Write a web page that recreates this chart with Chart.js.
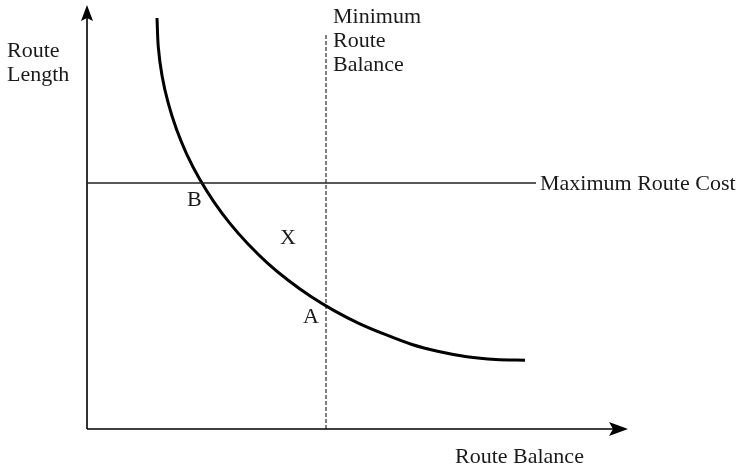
<!DOCTYPE html>
<html>
<head>
<meta charset="utf-8">
<script src="https://cdn.jsdelivr.net/npm/chart.js@4/dist/chart.umd.min.js"></script>
<style>
  html, body { margin: 0; padding: 0; background: #fff; }
  #wrap { width: 736px; height: 470px; }
</style>
</head>
<body>
<div id="wrap"><canvas id="grafico" width="736" height="470"></canvas></div>
<script>
// ===== Data (arbitrary units) =====
const curveX = [70, 71.3, 75, 81.1, 89.4, 99.8, 112.3, 126.7, 142.9, 160.8, 180.2,
  201.2, 223.5, 247.1, 271.8, 297.5, 324.2, 351.7, 379.9, 408.7, 438];
const curveY = [411, 381.9, 353.6, 326.3, 299.9, 274.6, 250.4, 227.4, 205.6, 185.2, 166.2,
  148.7, 132.7, 118.4, 105.7, 94.8, 84.8, 77.5, 72.3, 69.6, 68.8];

const maxCostX = [0, 449];
const maxCostY = [246, 246];

const minBalanceX = [239, 239];
const minBalanceY = [0, 396];

const xRange = [0, 541];
const yRange = [0, 424];

// ===== Text labels =====
const FONTE = '22px "Liberation Serif", "Times New Roman", serif';
const COR_TEXTO = '#1a1a1a';

const rotulos = [
  { text: 'Route', x: 7, y: 57 },
  { text: 'Length', x: 7, y: 81 },
  { text: 'Minimum', x: 333, y: 23 },
  { text: 'Route', x: 333, y: 47 },
  { text: 'Balance', x: 333, y: 71 },
  { text: 'Maximum Route Cost', x: 540, y: 190 },
  { text: 'B', x: 187, y: 206 },
  { text: 'X', x: 280, y: 244 },
  { text: 'A', x: 303, y: 323 },
  { text: 'Route Balance', x: 455, y: 463 },
];

const pares = (xs, ys) => xs.map((x, i) => ({ x, y: ys[i] }));

// ===== Plugin: axes with arrowheads + labels =====
const eixosPlugin = {
  id: 'eixos',
  beforeDatasetsDraw(chart) {
    const { ctx, scales: { x, y } } = chart;
    const x0 = x.getPixelForValue(0);
    const y0 = y.getPixelForValue(0);
    const topo = y.getPixelForValue(yRange[1]);
    const direita = x.getPixelForValue(xRange[1]);

    ctx.save();
    ctx.strokeStyle = '#000';
    ctx.fillStyle = '#000';
    ctx.lineWidth = 1.6;

    ctx.beginPath();
    ctx.moveTo(x0, y0);
    ctx.lineTo(x0, topo + 12);
    ctx.moveTo(x0, y0);
    ctx.lineTo(direita - 14, y0);
    ctx.stroke();

    // seta vertical
    ctx.beginPath();
    ctx.moveTo(x0, topo);
    ctx.lineTo(x0 + 6, topo + 16);
    ctx.lineTo(x0, topo + 13);
    ctx.lineTo(x0 - 6, topo + 16);
    ctx.closePath();
    ctx.fill();

    // seta horizontal
    ctx.beginPath();
    ctx.moveTo(direita, y0);
    ctx.lineTo(direita - 19, y0 - 7);
    ctx.lineTo(direita - 15, y0);
    ctx.lineTo(direita - 19, y0 + 7);
    ctx.closePath();
    ctx.fill();
    ctx.restore();
  },
  afterDatasetsDraw(chart) {
    const { ctx } = chart;
    ctx.save();
    ctx.font = FONTE;
    ctx.fillStyle = COR_TEXTO;
    ctx.textAlign = 'left';
    ctx.textBaseline = 'alphabetic';
    rotulos.forEach((r) => ctx.fillText(r.text, r.x, r.y));
    ctx.restore();
  },
};

new Chart(document.getElementById('grafico'), {
  type: 'scatter',
  data: {
    datasets: [
      {
        data: pares(maxCostX, maxCostY),
        showLine: true,
        borderColor: '#222',
        borderWidth: 1.3,
        pointRadius: 0,
      },
      {
        data: pares(minBalanceX, minBalanceY),
        showLine: true,
        borderColor: '#000',
        borderWidth: 1,
        borderDash: [4, 2],
        pointRadius: 0,
      },
      {
        data: pares(curveX, curveY),
        showLine: true,
        borderColor: '#000',
        borderWidth: 3,
        pointRadius: 0,
        tension: 0.3,
        borderCapStyle: 'butt',
      },
    ],
  },
  options: {
    responsive: false,
    animation: false,
    devicePixelRatio: 1,
    layout: { padding: { left: 87, right: 108, top: 5, bottom: 41 } },
    scales: {
      x: { type: 'linear', min: xRange[0], max: xRange[1], display: false },
      y: { type: 'linear', min: yRange[0], max: yRange[1], display: false },
    },
    plugins: {
      legend: { display: false },
      tooltip: { enabled: false },
    },
  },
  plugins: [eixosPlugin],
});
</script>
</body>
</html>
